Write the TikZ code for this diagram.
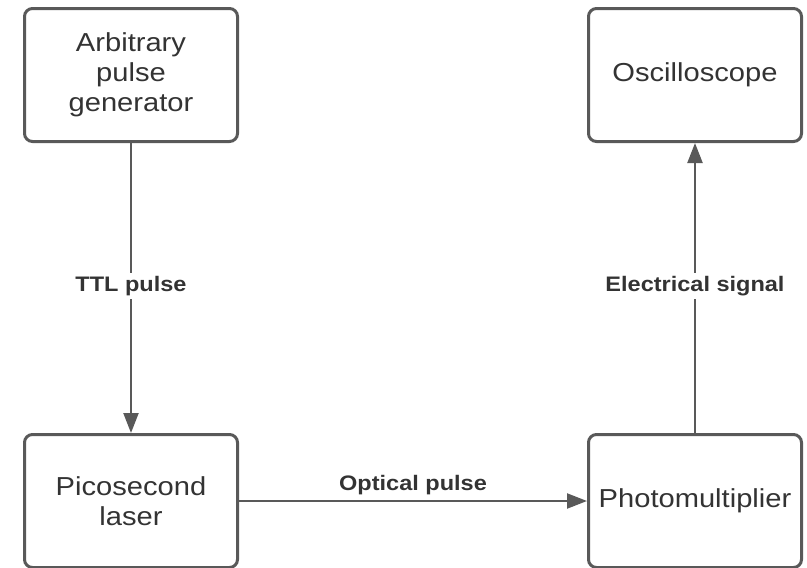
\documentclass[tikz,border=0pt]{standalone}
\usepackage{fontspec}
\setmainfont{Liberation Sans}[FakeStretch=1.12]
\usetikzlibrary{arrows.meta}
\definecolor{edgegray}{HTML}{595959}
\definecolor{textgray}{HTML}{333333}
\tikzset{
  blockbox/.style={draw=edgegray, line width=3pt, rounded corners=8pt,
    minimum width=213pt, minimum height=133pt, align=center,
    text=textgray, font=\fontsize{26}{30}\selectfont, inner sep=0pt},
  link/.style={draw=edgegray, line width=2.2pt,
    -{Triangle[length=20pt, width=15pt]}},
  linklabel/.style={fill=white, text=textgray, inner sep=3pt,
    font=\fontsize{21}{25}\selectfont\bfseries}
}
\begin{document}
\begin{tikzpicture}[x=1pt, y=-1pt]
  \useasboundingbox (0,0) rectangle (807,568);
  \node[blockbox] (gen)   at (131,75)  {Arbitrary\\pulse\\generator};
  \node[blockbox] (scope) at (695,75)  {Oscilloscope};
  \node[blockbox] (laser) at (131,501) {Picosecond\\laser};
  \node[blockbox] (pmt)   at (695,501) {Photomultiplier};

  \draw[link] (gen) -- (laser);
  \draw[link] (pmt) -- (scope);
  \draw[link] (laser) -- node[linklabel, fill=none, above=2pt] {Optical pulse} (pmt);

  % labels sitting on the vertical connectors
  \node[linklabel] (ttl)  at (131,286) {TTL pulse};
  \node[linklabel] (elec) at (695,286) {Electrical signal};
\end{tikzpicture}
\end{document}
